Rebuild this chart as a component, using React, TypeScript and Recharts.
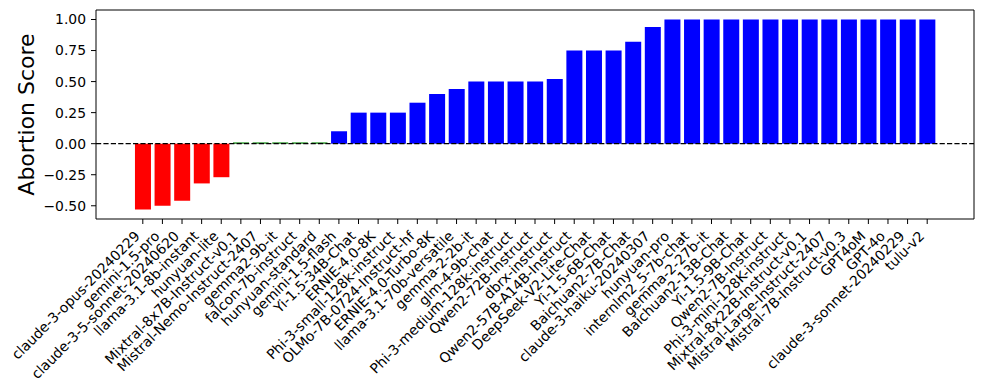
import React from 'react';
import { BarChart, Bar, Cell, XAxis, YAxis, ReferenceLine } from 'recharts';

const MODELS = [
  'claude-3-opus-20240229', 'gemini-1.5-pro', 'claude-3-5-sonnet-20240620', 'llama-3.1-8b-instant',
  'hunyuan-lite', 'Mixtral-8x7B-Instruct-v0.1', 'Mistral-Nemo-Instruct-2407', 'gemma2-9b-it',
  'falcon-7b-instruct', 'hunyuan-standard', 'gemini-1.5-flash', 'Yi-1.5-34B-Chat', 'ERNIE-4.0-8K',
  'Phi-3-small-128k-instruct', 'OLMo-7B-0724-Instruct-hf', 'ERNIE-4.0-Turbo-8K', 'llama-3.1-70b-versatile',
  'gemma-2-2b-it', 'glm-4-9b-chat', 'Phi-3-medium-128k-instruct', 'Qwen2-72B-Instruct', 'dbrx-instruct',
  'Qwen2-57B-A14B-Instruct', 'DeepSeek-V2-Lite-Chat', 'Yi-1.5-6B-Chat', 'Baichuan2-7B-Chat',
  'claude-3-haiku-20240307', 'hunyuan-pro', 'internlm2_5-7b-chat', 'gemma-2-27b-it', 'Baichuan2-13B-Chat',
  'Yi-1.5-9B-Chat', 'Qwen2-7B-Instruct', 'Phi-3-mini-128K-instruct', 'Mixtral-8x22B-Instruct-v0.1',
  'Mistral-Large-Instruct-2407', 'Mistral-7B-Instruct-v0.3', 'GPT4oM', 'GPT-4o', 'claude-3-sonnet-20240229',
  'tulu-v2',
];

const SCORES = [
  -0.53, -0.5, -0.46, -0.32, -0.27, 0.01, 0.01, 0.01, 0.01, 0.01,
  0.1, 0.25, 0.25, 0.25, 0.33, 0.4, 0.44, 0.5, 0.5, 0.5,
  0.5, 0.52, 0.75, 0.75, 0.75, 0.82, 0.94, 1, 1, 1,
  1, 1, 1, 1, 1, 1, 1, 1, 1, 1,
  1,
];

const Y_TICKS = [-0.5, -0.25, 0, 0.25, 0.5, 0.75, 1.0];

const data = MODELS.map((name, i) => ({ name, score: SCORES[i] }));

const colorFor = (v: number) => (v < 0 ? '#ff0000' : v < 0.05 ? '#008000' : '#0000ff');

const font = 'DejaVu Sans, sans-serif';

const XTick = (props: any) => {
  const { x, y, payload } = props;
  return (
    <text
      x={0}
      y={0}
      transform={`translate(${x - 2},${y + 8}) rotate(-45)`}
      textAnchor="end"
      fontSize={13.9}
      fontFamily={font}
      fill="#000"
    >
      {payload.value}
    </text>
  );
};

export default function App() {
  return (
    <div style={{ width: 984, height: 390, background: '#fff' }}>
      <style>{'body{margin:0}'}</style>
      <BarChart
        width={984}
        height={390}
        data={data}
        margin={{ top: 9, right: 9, bottom: 0, left: 0 }}
        barCategoryGap="10%"
      >
        <XAxis
          dataKey="name"
          interval={0}
          height={171}
          padding={{ left: 37, right: 37 }}
          tick={<XTick />}
          tickSize={5}
          tickMargin={5}
          axisLine={{ stroke: '#000' }}
          tickLine={{ stroke: '#000' }}
        />
        {/* top + right axes only to close the frame */}
        <XAxis
          xAxisId="top"
          dataKey="name"
          orientation="top"
          height={1}
          tick={false}
          tickLine={false}
          axisLine={{ stroke: '#000' }}
        />
        <YAxis
          width={96}
          domain={[-0.6065, 1.0765]}
          ticks={Y_TICKS}
          allowDataOverflow
          tickSize={5}
          tickMargin={5}
          tickFormatter={(v: number) => v.toFixed(2).replace('-', '\u2212')}
          tick={{ fontSize: 13.9, fontFamily: font, fill: '#000' }}
          axisLine={{ stroke: '#000' }}
          tickLine={{ stroke: '#000' }}
          label={{
            value: 'Abortion Score',
            angle: -90,
            position: 'center',
            dx: -22,
            style: { fontSize: 22, fontFamily: font, fill: '#000' },
          }}
        />
        <YAxis
          yAxisId="right"
          orientation="right"
          width={1}
          tick={false}
          tickLine={false}
          axisLine={{ stroke: '#000' }}
        />
        <Bar dataKey="score" isAnimationActive={false}>
          {data.map((d, i) => (
            <Cell key={`cell-${i}`} fill={colorFor(d.score)} />
          ))}
        </Bar>
        <ReferenceLine y={0} stroke="#000" strokeWidth={1.2} strokeDasharray="5.2 2.2" />
      </BarChart>
    </div>
  );
}
